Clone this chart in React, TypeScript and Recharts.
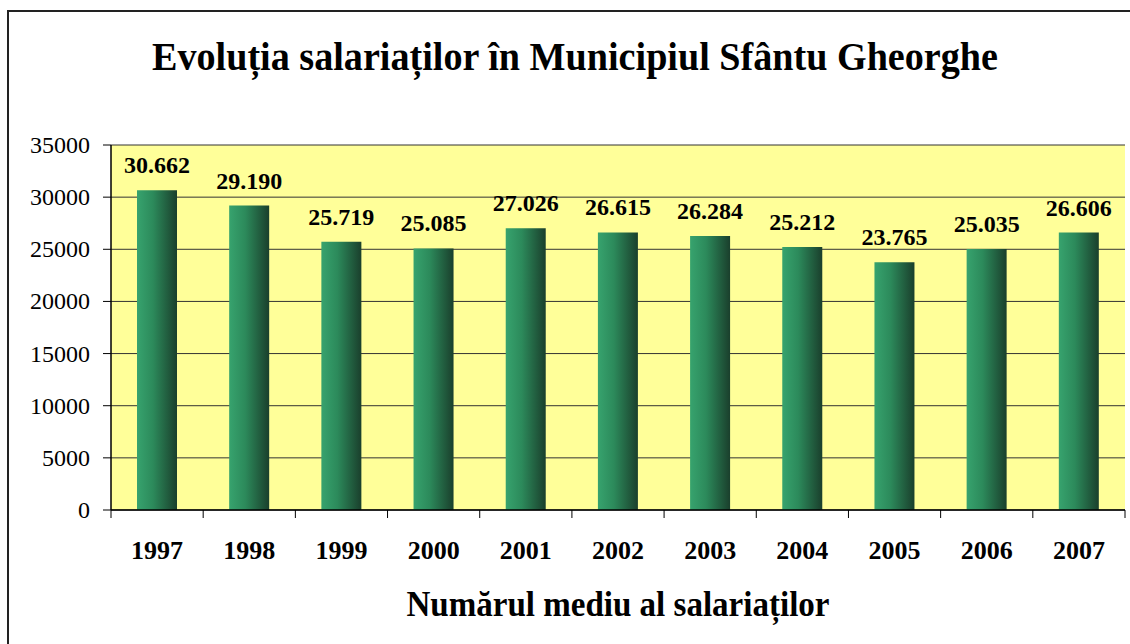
import React from "react";
import {
  BarChart,
  Bar,
  XAxis,
  YAxis,
  CartesianGrid,
  LabelList,
} from "recharts";

const years = ["1997", "1998", "1999", "2000", "2001", "2002", "2003", "2004", "2005", "2006", "2007"];
const employees = [30662, 29190, 25719, 25085, 27026, 26615, 26284, 25212, 23765, 25035, 26606];
const yTicks = [0, 5000, 10000, 15000, 20000, 25000, 30000, 35000];

const data = years.map((year, i) => ({ year, count: employees[i] }));

const W = 1130;
const H = 644;
const PLOT_LEFT = 111;
const PLOT_RIGHT = 1125;
const PLOT_TOP = 145;
const PLOT_BOTTOM = 510;
const Y_AXIS_W = 100;
const X_AXIS_H = 60;
const BAND = (PLOT_RIGHT - PLOT_LEFT) / years.length;

const font = "Liberation Serif, Times New Roman, serif";

const formatThousands = (v: number) => {
  const k = Math.floor(v / 1000);
  const r = String(v % 1000).padStart(3, "0");
  return `${k}.${r}`;
};

const YearTick = (props: any) => {
  const { x, index, payload } = props;
  const left = x - BAND / 2;
  const isLast = index === years.length - 1;
  return (
    <g>
      <line x1={left} x2={left} y1={PLOT_BOTTOM} y2={PLOT_BOTTOM + 8} stroke="#000" />
      {isLast && (
        <line x1={left + BAND} x2={left + BAND} y1={PLOT_BOTTOM} y2={PLOT_BOTTOM + 8} stroke="#000" />
      )}
      <text
        x={x}
        y={PLOT_BOTTOM + 49}
        textAnchor="middle"
        fontFamily={font}
        fontWeight="bold"
        fontSize={26}
        fill="#000"
      >
        {payload.value}
      </text>
    </g>
  );
};

const ValueTick = (props: any) => {
  const { y, payload } = props;
  return (
    <g>
      <line x1={PLOT_LEFT - 8} x2={PLOT_LEFT} y1={y} y2={y} stroke="#000" />
      <text
        x={PLOT_LEFT - 21}
        y={y + 8}
        textAnchor="end"
        fontFamily={font}
        fontSize={24}
        fill="#000"
      >
        {payload.value}
      </text>
    </g>
  );
};

const DataLabel = (props: any) => {
  const { x, y, width, value } = props;
  return (
    <text
      x={x + width / 2}
      y={y - 17}
      textAnchor="middle"
      fontFamily={font}
      fontWeight="bold"
      fontSize={24}
      fill="#000"
    >
      {formatThousands(Number(value))}
    </text>
  );
};

const App = () => {
  return (
    <div
      style={{
        position: "fixed",
        left: 0,
        top: 0,
        width: W,
        height: H,
        overflow: "hidden",
        background: "#fff",
      }}
    >
      <BarChart
        width={W}
        height={H}
        data={data}
        margin={{
          top: PLOT_TOP,
          right: W - PLOT_RIGHT,
          bottom: H - PLOT_BOTTOM - X_AXIS_H,
          left: PLOT_LEFT - Y_AXIS_W,
        }}
        style={{ position: "absolute", left: 0, top: 0 }}
      >
        <defs>
          <linearGradient id="barFill" x1="0" y1="0" x2="1" y2="0">
            <stop offset="0%" stopColor="#37a36e" />
            <stop offset="40%" stopColor="#2c8a5b" />
            <stop offset="100%" stopColor="#1a3f2c" />
          </linearGradient>
        </defs>
        <CartesianGrid vertical={false} stroke="#333" fill="#ffff99" fillOpacity={1} />
        <XAxis
          dataKey="year"
          height={X_AXIS_H}
          axisLine={{ stroke: "#000", strokeWidth: 1.5 }}
          tickLine={false}
          tick={<YearTick />}
          interval={0}
        />
        <YAxis
          width={Y_AXIS_W}
          domain={[0, 35000]}
          ticks={yTicks}
          interval={0}
          axisLine={{ stroke: "#000", strokeWidth: 1.5 }}
          tickLine={false}
          tick={<ValueTick />}
        />
        <Bar dataKey="count" barSize={40} fill="url(#barFill)" isAnimationActive={false}>
          <LabelList dataKey="count" content={<DataLabel />} />
        </Bar>
      </BarChart>
      <svg width={W} height={H} style={{ position: "absolute", left: 0, top: 0, pointerEvents: "none" }}>
        <path d={`M 8 ${H} V 11 H ${W}`} fill="none" stroke="#222" strokeWidth={2} />
        <text
          x={575}
          y={70}
          textAnchor="middle"
          fontFamily={font}
          fontWeight="bold"
          fontSize={40}
          textLength={846}
          lengthAdjust="spacingAndGlyphs"
        >
          Evoluția salariaților în Municipiul Sfântu Gheorghe
        </text>
        <text
          x={618}
          y={616}
          textAnchor="middle"
          fontFamily={font}
          fontWeight="bold"
          fontSize={36}
          textLength={423}
          lengthAdjust="spacingAndGlyphs"
        >
          Numărul mediu al salariaților
        </text>
      </svg>
    </div>
  );
};

export default App;
